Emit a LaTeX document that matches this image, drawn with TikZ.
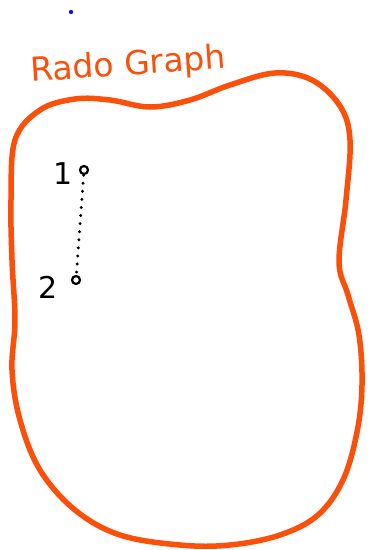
\documentclass[tikz,border=0pt]{standalone}
\usepackage{fontspec}
\newfontfamily\handfont{DejaVu Sans}
\definecolor{radored}{RGB}{250,80,10}
\definecolor{dotblue}{RGB}{20,20,230}
\begin{document}
\begin{tikzpicture}[x=1pt,y=-1pt,
  outline/.style={draw=radored,line width=5.5pt,line cap=round,line join=round},
  vertex/.style={circle,draw=black,line width=2.2pt,inner sep=0pt,minimum size=8pt},
  numlabel/.style={font=\handfont\fontsize{30}{30}\selectfont,text=black,inner sep=0pt},
  edgeline/.style={black,line width=3.2pt,line cap=round,dash pattern=on 0.1pt off 8pt}]
\useasboundingbox[fill=white] (0,0) rectangle (370,550);
\fill[dotblue] (71,12) circle (2.2);
\node[font=\handfont\fontsize{33}{33}\selectfont,text=radored,inner sep=0pt,rotate=4] (title) at (128,66) {Rado Graph};
\draw[outline] plot[smooth cycle,tension=0.6] coordinates {
 (15,140) (40,110) (75,99) (110,100) (150,107) (190,100) (230,85) (275,73) (312,80) (340,106) (350,140)
 (346,200) (339,262) (348,295) (359,335) (362,385) (357,432) (343,480) (318,515) (280,535) (230,545)
 (180,545) (120,535) (75,510) (40,470) (20,420) (12,370) (15,320) (12,260) (11,200)};
\node[vertex] (v1) at (84,170) {};
\node[vertex] (v2) at (76,280) {};
\node[numlabel] (l1) at (63,174) {1};
\node[numlabel] (l2) at (48,287) {2};
\draw[edgeline] (v1) -- (v2);
\end{tikzpicture}
\end{document}
